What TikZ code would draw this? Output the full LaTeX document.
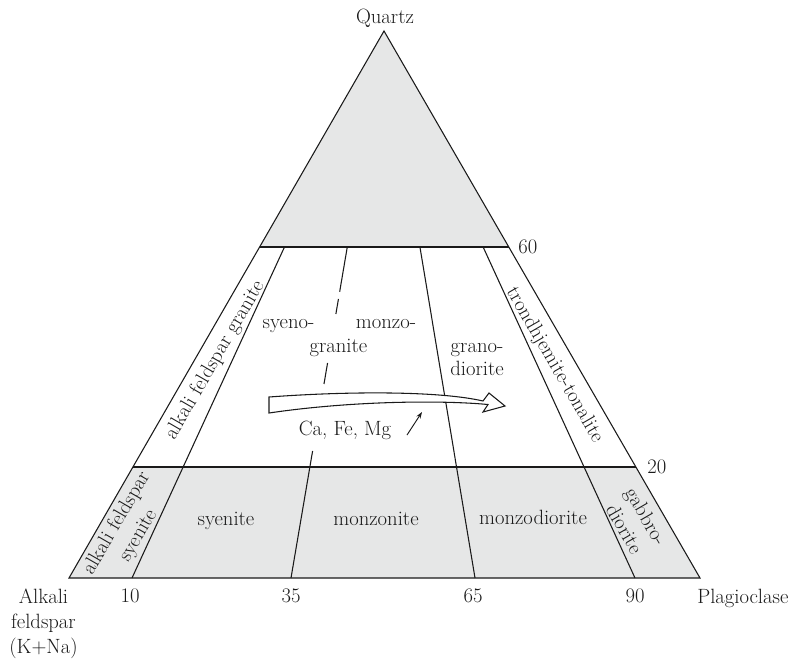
\documentclass[tikz,border=0pt]{standalone}
\usetikzlibrary{calc,arrows.meta}
\definecolor{fillgray}{HTML}{E6E7E7}
\definecolor{ink}{HTML}{1A1A1A}
\tikzset{
  lbl/.style={inner sep=0pt, font=\fontsize{15.5}{18.75}\selectfont, text=ink},
  edge/.style={draw=ink, line width=0.8pt},
  rock/.style={lbl, anchor=base},
}
\begin{document}
\begin{tikzpicture}[x=0.75pt,y=-0.75pt]
\useasboundingbox (0,0) rectangle (803,665);
% corners and base points
\coordinate (Q) at (384,31);
\coordinate (A) at (69,578);
\coordinate (P) at (700,578);
\coordinate (b10) at (132,578);
\coordinate (b35) at (291,578);
\coordinate (b65) at (475,578);
\coordinate (b90) at (635,578);
\def\fsixty{0.3949}
\def\ftwenty{0.7971}
\coordinate (A60) at ($(Q)!\fsixty!(A)$);
\coordinate (P60) at ($(Q)!\fsixty!(P)$);
\coordinate (A20) at ($(Q)!\ftwenty!(A)$);
\coordinate (P20) at ($(Q)!\ftwenty!(P)$);
\coordinate (t10) at ($(Q)!\fsixty!(b10)$);
\coordinate (t65) at ($(Q)!\fsixty!(b65)$);
\coordinate (t90) at ($(Q)!\fsixty!(b90)$);
\coordinate (d1a) at ($(Q)!\fsixty!(b35)$);
\coordinate (d1b) at ($(Q)!0.4766!(b35)$);
\coordinate (d2a) at ($(Q)!0.4899!(b35)$);
\coordinate (d2b) at ($(Q)!0.5174!(b35)$);
\coordinate (d3a) at ($(Q)!0.6069!(b35)$);
\coordinate (d3b) at ($(Q)!0.6453!(b35)$);
\coordinate (d4a) at ($(Q)!0.7678!(b35)$);
% fills
\fill[fillgray] (Q) -- (A60) -- (P60) -- cycle;
\fill[fillgray] (A20) -- (P20) -- (P) -- (A) -- cycle;
% outline and fields
\draw[edge, line join=miter] (Q) -- (A) -- (P) -- cycle;
\draw[edge] (A60) -- (P60);
\draw[edge] (A20) -- (P20);
\draw[edge] (t10) -- (b10);
\draw[edge] (t65) -- (b65);
\draw[edge] (t90) -- (b90);
\draw[edge] (d1a) -- (d1b);
\draw[edge] (d2a) -- (d2b);
\draw[edge] (d3a) -- (d3b);
\draw[edge] (d4a) -- (b35);
% hollow trend arrow
\coordinate (ha1) at (269,397);
\coordinate (ha2) at (483,401);
\coordinate (ha3) at (489,393);
\coordinate (ha4) at (505,406);
\coordinate (ha5) at (483,412);
\coordinate (ha6) at (488,404.5);
\coordinate (ha7) at (269,413);
\draw[edge, fill=white, line join=miter] (ha1) .. controls (350,391) and (440,391) .. (ha2)
  -- (ha3) -- (ha4) -- (ha5) -- (ha6)
  .. controls (440,400) and (350,401) .. (ha7) -- cycle;
% small arrow
\coordinate (sa1) at (407,435);
\coordinate (sa2) at (422,412);
\draw[draw=ink, line width=0.7pt, -{Stealth[length=5pt,width=3.5pt]}] (sa1) -- (sa2);
% labels
\node[lbl, anchor=base] (quartz) at (385,23) {Quartz};
\node[lbl, anchor=base west] (n60) at (518,253) {60};
\node[lbl, anchor=base west] (n20) at (647,473) {20};
\node[lbl, anchor=base] (n10) at (130,602) {10};
\node[lbl, anchor=base] (n35) at (291,602) {35};
\node[lbl, anchor=base] (n65) at (473,602) {65};
\node[lbl, anchor=base] (n90) at (635,602) {90};
\node[lbl, anchor=base west] (plag) at (697,603) {Plagioclase};
\node[lbl, anchor=base] (alk1) at (43.5,603) {Alkali};
\node[lbl, anchor=base] (alk2) at (43.5,628) {feldspar};
\node[lbl, anchor=base] (alk3) at (43.5,653) {(K+Na)};
\node[rock] (syeno) at (288.5,328.5) {syeno-};
\node[rock] (monzo) at (386,328.5) {monzo-};
\node[rock] (granite) at (338.5,352) {granite};
\node[rock] (grano) at (477,352.5) {grano-};
\node[rock] (dior) at (477,375.5) {diorite};
\node[rock] (cafe) at (345,435.5) {Ca, Fe, Mg};
\node[rock] (syenite) at (226,525) {syenite};
\node[rock] (monzonite) at (376,525) {monzonite};
\node[rock] (monzodior) at (533,524.5) {monzodiorite};
\node[lbl, rotate=60] (afg) at (215,360) {alkali feldspar granite};
\node[lbl, rotate=-60] (tt) at (554.5,365) {trondhjemite-tonalite};
\node[lbl, rotate=60, align=center] (afs) at (127.5,529.5) {alkali feldspar\\syenite};
\node[lbl, rotate=-60, align=center] (gd) at (635.5,522.5) {gabbro-\\diorite};
\end{tikzpicture}
\end{document}
